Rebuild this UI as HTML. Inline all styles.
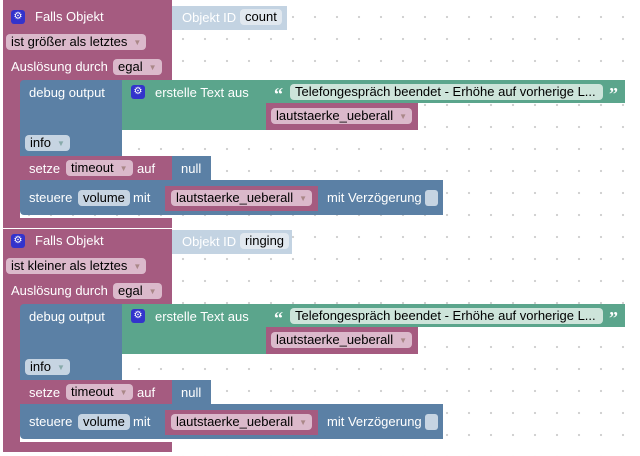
<!DOCTYPE html>
<html><head><meta charset="utf-8"><style>
body{margin:0;width:640px;height:456px;overflow:hidden;background:#fff;
background-image:radial-gradient(circle,#cfcfcf 1px,transparent 1.3px);background-size:22px 22px;background-position:-4px 6px;
font-family:"Liberation Sans",sans-serif;font-size:13px;color:#fff;position:relative}
.g{position:absolute;left:0;width:640px;height:224px}
.r{position:absolute;box-sizing:border-box}
.p{background:#a55b80}.b{background:#5b80a5}.gr{background:#5ba58c}
.t{position:absolute;white-space:nowrap;line-height:14px}
.q{position:absolute;font-size:18px;font-weight:bold;line-height:18px;font-family:"Liberation Serif",serif}
.f{position:absolute;border-radius:4px;color:#000;line-height:16px;height:16px;padding:0 5px;white-space:nowrap;box-sizing:border-box}
.fp{background:#dbb9cb}.fb{background:#c6d4e2}.fg{background:#cde4da}
.ar{font-size:8px;color:#a88;margin-left:6px;vertical-align:1px}
.fb .ar{color:#8aa}
.ic{position:absolute;width:14px;height:14px;background:#3333cc;border-radius:3px;color:#fff;font-size:10px;line-height:14px;text-align:center}
</style></head><body>

<div class="r p" style="left:3px;top:0;width:169px;height:6px"></div>

<div class="g" style="top:5px">
 <div class="r p" style="left:3px;top:0;width:169px;height:80px"></div>
 <div class="r p" style="left:3px;top:0;width:17px;height:223px"></div>
 <div class="r p" style="left:3px;top:213px;width:169px;height:10px"></div>
 <div class="ic" style="left:11px;top:5px">⚙</div>
 <div class="t" style="left:35px;top:5px">Falls Objekt</div>
 <div class="r" style="left:172px;top:1px;width:115px;height:24px;background:#c3d3e2"></div>
 <div class="t" style="left:182px;top:6px">Objekt ID</div>
 <div class="f fb" style="left:240px;top:4px;background:#e1e8ef">count</div>
 <div class="f fp" style="left:6px;top:29px">ist größer als letztes<span class="ar">▼</span></div>
 <div class="t" style="left:11px;top:55px">Auslösung durch</div>
 <div class="f fp" style="left:113px;top:54px">egal<span class="ar">▼</span></div>
 <div class="r b" style="left:20px;top:75px;width:102px;height:76px;border-radius:4px 0 0 0"></div>
 <div class="t" style="left:29px;top:81px">debug output</div>
 <div class="r gr" style="left:122px;top:75px;width:144px;height:50px"></div>
 <div class="ic" style="left:131px;top:80px">⚙</div>
 <div class="t" style="left:155px;top:81px">erstelle Text aus</div>
 <div class="r gr" style="left:266px;top:75px;width:359px;height:23px"></div>
 <div class="q" style="left:274px;top:80px">“</div>
 <div class="f fg" style="left:290px;top:79px;width:313px">Telefongespräch beendet - Erhöhe auf vorherige L...</div>
 <div class="q" style="left:609px;top:80px">”</div>
 <div class="r p" style="left:266px;top:98px;width:152px;height:27px"></div>
 <div class="f fp" style="left:271px;top:103px">lautstaerke_ueberall<span class="ar">▼</span></div>
 <div class="f fb" style="left:25px;top:130px">info<span class="ar">▼</span></div>
 <div class="r p" style="left:20px;top:151px;width:152px;height:24px"></div>
 <div class="t" style="left:29px;top:157px">setze</div>
 <div class="f fp" style="left:66px;top:155px">timeout<span class="ar">▼</span></div>
 <div class="t" style="left:137px;top:157px">auf</div>
 <div class="r b" style="left:172px;top:151px;width:39px;height:24px"></div>
 <div class="t" style="left:181px;top:157px">null</div>
 <div class="r b" style="left:20px;top:175px;width:423px;height:35px;border-radius:0 0 0 4px"></div>
 <div class="t" style="left:29px;top:186px">steuere</div>
 <div class="f fb" style="left:78px;top:185px">volume</div>
 <div class="t" style="left:133px;top:186px">mit</div>
 <div class="r p" style="left:165px;top:181px;width:153px;height:25px"></div>
 <div class="f fp" style="left:171px;top:185px">lautstaerke_ueberall<span class="ar">▼</span></div>
 <div class="t" style="left:327px;top:186px">mit Verzögerung</div>
 <div class="r" style="left:425px;top:185px;width:13px;height:16px;border-radius:3px;background:#c6d4e2"></div>
</div>

<div class="g" style="top:229px">
 <div class="r p" style="left:3px;top:0;width:169px;height:80px"></div>
 <div class="r p" style="left:3px;top:0;width:17px;height:223px"></div>
 <div class="r p" style="left:3px;top:213px;width:169px;height:10px"></div>
 <div class="ic" style="left:11px;top:5px">⚙</div>
 <div class="t" style="left:35px;top:5px">Falls Objekt</div>
 <div class="r" style="left:172px;top:1px;width:120px;height:24px;background:#c3d3e2"></div>
 <div class="t" style="left:182px;top:6px">Objekt ID</div>
 <div class="f fb" style="left:240px;top:4px;background:#e1e8ef">ringing</div>
 <div class="f fp" style="left:6px;top:29px">ist kleiner als letztes<span class="ar">▼</span></div>
 <div class="t" style="left:11px;top:55px">Auslösung durch</div>
 <div class="f fp" style="left:113px;top:54px">egal<span class="ar">▼</span></div>
 <div class="r b" style="left:20px;top:75px;width:102px;height:76px;border-radius:4px 0 0 0"></div>
 <div class="t" style="left:29px;top:81px">debug output</div>
 <div class="r gr" style="left:122px;top:75px;width:144px;height:50px"></div>
 <div class="ic" style="left:131px;top:80px">⚙</div>
 <div class="t" style="left:155px;top:81px">erstelle Text aus</div>
 <div class="r gr" style="left:266px;top:75px;width:359px;height:23px"></div>
 <div class="q" style="left:274px;top:80px">“</div>
 <div class="f fg" style="left:290px;top:79px;width:313px">Telefongespräch beendet - Erhöhe auf vorherige L...</div>
 <div class="q" style="left:609px;top:80px">”</div>
 <div class="r p" style="left:266px;top:98px;width:152px;height:27px"></div>
 <div class="f fp" style="left:271px;top:103px">lautstaerke_ueberall<span class="ar">▼</span></div>
 <div class="f fb" style="left:25px;top:130px">info<span class="ar">▼</span></div>
 <div class="r p" style="left:20px;top:151px;width:152px;height:24px"></div>
 <div class="t" style="left:29px;top:157px">setze</div>
 <div class="f fp" style="left:66px;top:155px">timeout<span class="ar">▼</span></div>
 <div class="t" style="left:137px;top:157px">auf</div>
 <div class="r b" style="left:172px;top:151px;width:39px;height:24px"></div>
 <div class="t" style="left:181px;top:157px">null</div>
 <div class="r b" style="left:20px;top:175px;width:423px;height:35px;border-radius:0 0 0 4px"></div>
 <div class="t" style="left:29px;top:186px">steuere</div>
 <div class="f fb" style="left:78px;top:185px">volume</div>
 <div class="t" style="left:133px;top:186px">mit</div>
 <div class="r p" style="left:165px;top:181px;width:153px;height:25px"></div>
 <div class="f fp" style="left:171px;top:185px">lautstaerke_ueberall<span class="ar">▼</span></div>
 <div class="t" style="left:327px;top:186px">mit Verzögerung</div>
 <div class="r" style="left:425px;top:185px;width:13px;height:16px;border-radius:3px;background:#c6d4e2"></div>
</div>
</body></html>
